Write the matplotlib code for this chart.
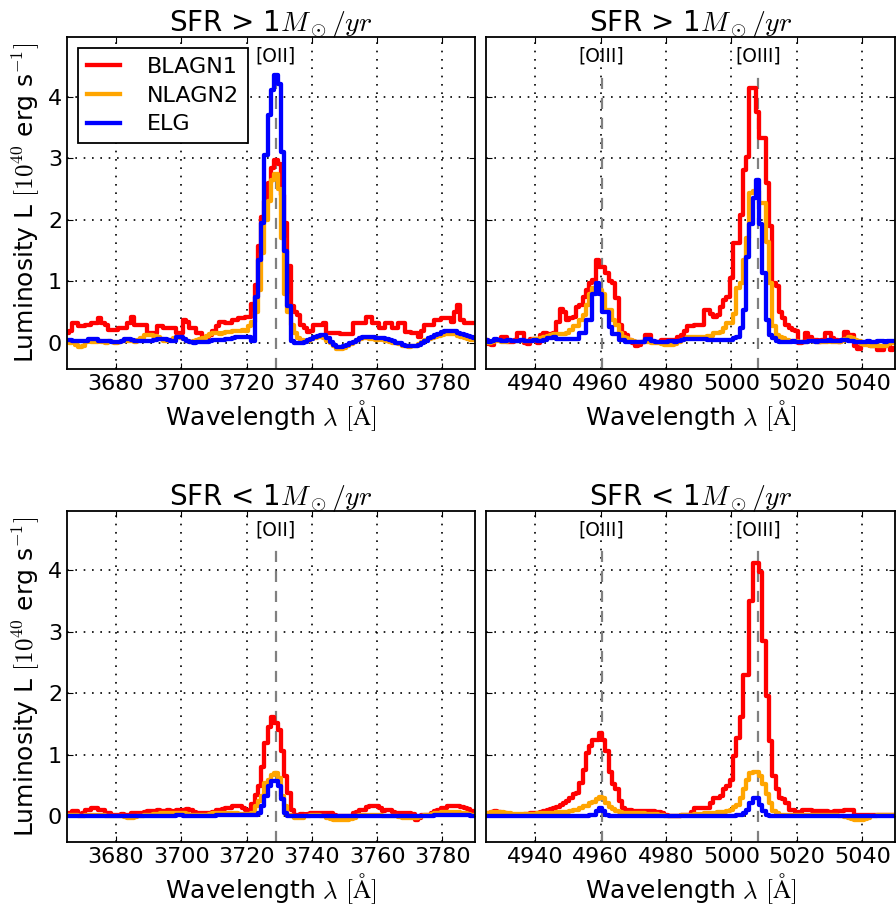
import numpy as np
import matplotlib
matplotlib.use("Agg")
import matplotlib.pyplot as plt

plt.rcParams["font.family"] = ["DejaVu Sans"]
plt.rcParams["mathtext.fontset"] = "cm"

# wavelength grids (Angstrom, 1 A bins)
wl_oii = np.arange(3665, 3791)
wl_oiii = np.arange(4925, 5051)

# ---- SFR > 1 Msun/yr, [OII] window ----
hi_oii_blagn1 = [
    0.17, 0.20, 0.32, 0.32, 0.27, 0.27, 0.29, 0.29, 0.33, 0.33,
    0.40, 0.32, 0.30, 0.21, 0.21, 0.21, 0.24, 0.24, 0.24, 0.32,
    0.43, 0.30, 0.30, 0.30, 0.30, 0.16, 0.16, 0.16, 0.27, 0.27,
    0.24, 0.24, 0.24, 0.24, 0.16, 0.16, 0.37, 0.35, 0.24, 0.24,
    0.16, 0.16, 0.10, 0.10, 0.13, 0.20, 0.27, 0.35, 0.35, 0.32,
    0.32, 0.37, 0.37, 0.40, 0.40, 0.43, 0.43, 0.64, 0.95, 1.57,
    2.05, 2.30, 2.60, 2.84, 2.97, 2.90, 2.40, 1.95, 1.25, 0.60,
    0.50, 0.45, 0.30, 0.25, 0.18, 0.20, 0.30, 0.30, 0.30, 0.32,
    0.16, 0.16, 0.16, 0.16, 0.15, 0.14, 0.14, 0.14, 0.32, 0.32,
    0.32, 0.32, 0.43, 0.43, 0.32, 0.32, 0.24, 0.24, 0.32, 0.32,
    0.24, 0.24, 0.32, 0.32, 0.18, 0.18, 0.16, 0.16, 0.10, 0.20,
    0.29, 0.29, 0.29, 0.37, 0.37, 0.40, 0.40, 0.40, 0.35, 0.50,
    0.62, 0.37, 0.32, 0.32, 0.32, 0.32,
]
hi_oii_nlagn2 = [
    0.02, 0.00, 0.02, -0.03, -0.06, -0.04, 0.02, 0.03, 0.02, 0.01,
    0.03, 0.02, 0.00, 0.03, 0.02, 0.00, 0.02, 0.04, 0.03, 0.03,
    0.04, 0.02, 0.05, 0.08, 0.13, 0.13, 0.13, 0.12, 0.10, 0.06,
    0.04, 0.05, 0.05, 0.08, 0.10, 0.09, 0.06, 0.03, 0.02, 0.03,
    0.05, 0.07, 0.09, 0.12, 0.14, 0.16, 0.16, 0.15, 0.16, 0.18,
    0.18, 0.19, 0.20, 0.20, 0.22, 0.20, 0.27, 0.35, 0.50, 0.86,
    1.46, 2.00, 2.30, 2.65, 2.75, 2.50, 1.70, 0.80, 0.50, 0.30,
    0.16, 0.08, 0.05, 0.04, 0.04, 0.06, 0.09, 0.10, 0.10, 0.08,
    0.03, 0.00, -0.05, -0.09, -0.10, -0.08, -0.05, -0.02, 0.02, 0.05,
    0.07, 0.08, 0.08, 0.07, 0.06, 0.05, 0.06, 0.05, 0.04, 0.02,
    0.00, 0.00, -0.02, -0.04, -0.05, -0.06, -0.05, -0.04, -0.02, 0.02,
    0.05, 0.07, 0.08, 0.10, 0.12, 0.13, 0.14, 0.15, 0.15, 0.14,
    0.12, 0.10, 0.08, 0.06, 0.05, 0.05,
]
hi_oii_elg = [
    0.05, 0.05, 0.04, 0.04, 0.04, 0.04, 0.04, 0.06, 0.06, 0.06,
    0.04, 0.04, 0.04, 0.03, 0.02, 0.02, 0.02, 0.03, 0.06, 0.06,
    0.05, 0.04, 0.03, 0.03, 0.03, 0.04, 0.04, 0.05, 0.06, 0.06,
    0.06, 0.05, 0.04, 0.04, 0.10, 0.10, 0.06, 0.04, 0.02, 0.00,
    0.01, 0.02, 0.02, 0.02, 0.03, 0.05, 0.05, 0.05, 0.05, 0.06,
    0.06, 0.08, 0.10, 0.10, 0.10, 0.10, 0.10, 0.03, 0.75, 1.35,
    1.95, 3.05, 3.70, 4.10, 4.35, 4.20, 3.10, 1.50, 0.60, 0.03,
    0.00, 0.00, 0.00, 0.02, 0.05, 0.07, 0.10, 0.12, 0.13, 0.13,
    0.08, 0.02, -0.03, -0.06, -0.06, -0.05, -0.03, 0.00, 0.02, 0.05,
    0.08, 0.10, 0.10, 0.10, 0.10, 0.08, 0.08, 0.08, 0.06, 0.05,
    0.03, 0.00, 0.00, -0.03, -0.04, -0.05, -0.05, -0.05, -0.03, 0.00,
    0.04, 0.08, 0.10, 0.13, 0.15, 0.18, 0.20, 0.20, 0.20, 0.19,
    0.17, 0.15, 0.13, 0.12, 0.10, 0.08,
]

# ---- SFR > 1 Msun/yr, [OIII] window ----
hi_oiii_blagn1 = [
    0.05, -0.02, -0.03, 0.05, 0.05, 0.10, 0.10, 0.02, 0.02, 0.05,
    0.16, 0.16, 0.00, -0.02, 0.07, 0.07, 0.00, 0.13, 0.16, 0.15,
    0.15, 0.16, 0.35, 0.56, 0.50, 0.37, 0.40, 0.43, 0.59, 0.62,
    0.75, 0.86, 0.97, 1.02, 1.35, 1.24, 1.24, 1.13, 1.00, 0.97,
    0.73, 0.30, 0.16, 0.13, 0.05, 0.00, -0.05, -0.03, 0.02, 0.13,
    0.13, 0.02, 0.02, 0.02, 0.05, 0.05, 0.05, 0.05, 0.05, 0.10,
    0.13, 0.19, 0.27, 0.27, 0.29, 0.29, 0.29, 0.54, 0.54, 0.48,
    0.43, 0.45, 0.59, 0.70, 0.75, 1.05, 1.62, 1.62, 2.08, 2.81,
    3.02, 4.13, 4.13, 3.75, 3.32, 3.32, 2.60, 1.90, 0.97, 0.92,
    0.50, 0.40, 0.30, 0.25, 0.22, 0.20, 0.00, 0.02, 0.16, 0.10,
    0.05, 0.05, 0.02, 0.05, 0.16, 0.16, 0.08, 0.05, 0.02, 0.05,
    0.18, 0.13, 0.13, -0.05, -0.09, 0.00, 0.00, -0.03, -0.05, -0.05,
    -0.11, -0.11, -0.05, 0.02, -0.11, -0.08,
]
hi_oiii_nlagn2 = [
    0.02, 0.00, 0.02, 0.03, 0.03, 0.02, 0.02, 0.04, 0.04, 0.03,
    0.03, 0.04, 0.04, 0.03, 0.04, 0.06, 0.06, 0.08, 0.10, 0.12,
    0.13, 0.14, 0.15, 0.15, 0.15, 0.16, 0.22, 0.27, 0.27, 0.38,
    0.45, 0.62, 0.80, 0.90, 0.90, 0.86, 0.80, 0.54, 0.54, 0.37,
    0.30, 0.16, 0.10, 0.08, 0.05, 0.03, 0.02, 0.02, 0.02, 0.02,
    0.02, 0.00, 0.00, 0.00, -0.02, -0.03, -0.03, -0.03, -0.02, 0.02,
    0.05, 0.07, 0.10, 0.10, 0.10, 0.10, 0.10, 0.10, 0.12, 0.12,
    0.16, 0.16, 0.18, 0.24, 0.32, 0.32, 0.48, 0.89, 0.97, 1.35,
    1.70, 2.43, 2.46, 2.46, 2.27, 2.27, 1.64, 0.97, 0.27, 0.13,
    0.10, 0.08, 0.05, 0.04, 0.03, 0.03, 0.02, 0.02, 0.02, 0.03,
    0.03, 0.02, 0.01, 0.02, 0.02, 0.03, 0.02, 0.01, 0.02, 0.04,
    0.06, 0.10, 0.08, 0.05, 0.03, -0.02, -0.03, -0.03, -0.04, -0.03,
    -0.04, -0.05, -0.04, -0.02, 0.00, 0.00,
]
hi_oiii_elg = [
    0.05, 0.02, 0.03, 0.07, 0.05, 0.03, 0.03, 0.05, 0.04, 0.03,
    0.04, 0.05, 0.03, 0.03, 0.04, 0.05, 0.03, 0.03, 0.05, 0.08,
    0.08, 0.10, 0.07, 0.07, 0.07, 0.06, 0.06, 0.07, 0.07, 0.16,
    0.16, 0.37, 0.37, 0.80, 0.97, 0.80, 0.50, 0.50, 0.26, 0.15,
    0.15, 0.05, 0.05, 0.02, 0.02, 0.02, 0.02, 0.02, 0.02, 0.07,
    0.07, 0.03, 0.02, 0.02, 0.02, 0.02, 0.03, 0.03, 0.02, 0.03,
    0.05, 0.07, 0.07, 0.07, 0.06, 0.07, 0.07, 0.07, 0.05, 0.05,
    0.05, 0.05, 0.05, 0.05, 0.05, 0.05, 0.08, 0.10, 0.24, 0.54,
    1.40, 1.94, 2.35, 2.65, 1.94, 1.13, 0.37, 0.13, 0.08, 0.04,
    0.02, 0.02, 0.02, 0.02, 0.03, 0.02, 0.02, 0.02, 0.02, 0.03,
    0.03, 0.02, 0.03, 0.03, 0.04, 0.05, 0.04, 0.03, 0.03, 0.05,
    0.05, 0.04, 0.03, 0.02, 0.01, 0.02, 0.02, 0.03, 0.02, 0.02,
    0.03, 0.03, 0.02, 0.04, 0.04, 0.03,
]

# ---- SFR < 1 Msun/yr, [OII] window ----
lo_oii_blagn1 = [
    0.06, 0.06, 0.09, 0.09, 0.03, 0.05, 0.11, 0.11, 0.14, 0.14,
    0.11, 0.11, 0.06, 0.06, 0.03, 0.03, 0.03, 0.04, 0.03, 0.03,
    0.05, 0.06, 0.06, 0.06, 0.08, 0.09, 0.09, 0.09, 0.10, 0.09,
    0.09, 0.10, 0.09, 0.08, 0.10, 0.11, 0.11, 0.12, 0.10, 0.07,
    0.06, 0.06, 0.06, 0.06, 0.06, 0.08, 0.11, 0.11, 0.12, 0.14,
    0.14, 0.17, 0.17, 0.17, 0.14, 0.11, 0.11, 0.20, 0.35, 0.49,
    0.81, 1.19, 1.46, 1.62, 1.52, 1.41, 1.06, 0.65, 0.38, 0.11,
    0.03, 0.03, 0.04, 0.03, 0.04, 0.06, 0.06, 0.06, 0.06, 0.05,
    0.05, 0.05, 0.02, 0.00, 0.00, 0.00, 0.00, 0.01, 0.06, 0.08,
    0.11, 0.11, 0.15, 0.17, 0.17, 0.17, 0.14, 0.09, 0.11, 0.11,
    0.08, 0.06, 0.06, 0.06, 0.06, 0.06, 0.04, -0.05, -0.03, 0.03,
    0.03, 0.03, 0.05, 0.09, 0.11, 0.13, 0.14, 0.17, 0.17, 0.17,
    0.17, 0.15, 0.14, 0.12, 0.09, 0.09,
]
lo_oii_nlagn2 = [
    0.03, 0.03, 0.02, 0.02, 0.01, 0.01, 0.02, 0.03, 0.03, 0.02,
    0.02, 0.02, 0.01, 0.00, 0.00, 0.01, 0.01, 0.00, -0.01, -0.02,
    -0.02, -0.01, 0.00, 0.01, 0.02, 0.03, 0.03, 0.04, 0.04, 0.05,
    0.05, 0.05, 0.05, 0.06, 0.06, 0.06, 0.05, 0.04, 0.03, 0.03,
    0.02, 0.02, 0.02, 0.03, 0.04, 0.05, 0.06, 0.06, 0.06, 0.05,
    0.05, 0.05, 0.05, 0.04, 0.04, 0.04, 0.04, 0.05, 0.17, 0.25,
    0.33, 0.54, 0.60, 0.68, 0.71, 0.63, 0.33, 0.17, 0.03, 0.00,
    -0.02, -0.03, -0.02, 0.00, 0.01, 0.02, 0.02, 0.02, 0.01, 0.00,
    -0.02, -0.04, -0.05, -0.06, -0.06, -0.06, -0.05, -0.04, -0.02, 0.00,
    0.02, 0.03, 0.03, 0.03, 0.03, 0.02, 0.02, 0.01, 0.01, 0.00,
    0.00, 0.00, -0.01, -0.02, -0.02, -0.02, -0.03, -0.02, -0.01, 0.00,
    0.02, 0.03, 0.04, 0.05, 0.06, 0.07, 0.08, 0.08, 0.08, 0.08,
    0.07, 0.06, 0.05, 0.04, 0.03, 0.03,
]
lo_oii_elg = [
    0.01, 0.01, 0.01, 0.01, 0.01, 0.01, 0.01, 0.01, 0.01, 0.01,
    0.01, 0.01, 0.01, 0.01, 0.01, 0.01, 0.01, 0.01, 0.01, 0.01,
    0.01, 0.01, 0.01, 0.01, 0.01, 0.01, 0.01, 0.01, 0.01, 0.01,
    0.01, 0.01, 0.01, 0.01, 0.02, 0.02, 0.01, 0.01, 0.01, 0.01,
    0.01, 0.01, 0.01, 0.01, 0.01, 0.01, 0.02, 0.02, 0.02, 0.02,
    0.02, 0.02, 0.02, 0.02, 0.02, 0.02, 0.02, 0.02, 0.03, 0.06,
    0.17, 0.33, 0.49, 0.57, 0.57, 0.49, 0.28, 0.06, 0.00, 0.00,
    0.00, 0.00, 0.00, 0.00, 0.00, 0.00, 0.01, 0.01, 0.01, 0.01,
    0.00, 0.00, 0.00, 0.00, 0.00, 0.00, 0.00, 0.00, 0.00, 0.01,
    0.01, 0.01, 0.01, 0.01, 0.01, 0.01, 0.01, 0.01, 0.00, 0.00,
    0.00, 0.00, 0.00, 0.00, 0.00, 0.00, 0.00, 0.00, 0.00, 0.00,
    0.01, 0.01, 0.01, 0.02, 0.02, 0.02, 0.03, 0.03, 0.03, 0.03,
    0.03, 0.02, 0.02, 0.02, 0.01, 0.01,
]

# ---- SFR < 1 Msun/yr, [OIII] window ----
lo_oiii_blagn1 = [
    0.05, 0.06, 0.08, 0.09, 0.08, 0.06, 0.05, 0.04, 0.03, 0.03,
    0.03, 0.03, 0.04, 0.04, 0.05, 0.05, 0.05, 0.07, 0.09, 0.10,
    0.12, 0.14, 0.16, 0.18, 0.22, 0.25, 0.30, 0.36, 0.38, 0.54,
    0.76, 1.03, 1.14, 1.25, 1.25, 1.35, 1.25, 1.06, 0.73, 0.52,
    0.45, 0.25, 0.13, 0.11, 0.10, 0.09, 0.09, 0.09, 0.09, 0.09,
    0.09, 0.09, 0.08, 0.07, 0.06, 0.03, 0.00, 0.00, 0.00, 0.00,
    0.02, 0.03, 0.03, 0.08, 0.14, 0.14, 0.14, 0.14, 0.14, 0.22,
    0.30, 0.30, 0.33, 0.44, 0.50, 0.60, 0.98, 1.27, 1.62, 2.30,
    2.30, 3.51, 4.12, 4.12, 3.97, 2.86, 1.95, 1.22, 0.65, 0.44,
    0.30, 0.28, 0.22, 0.11, 0.11, 0.08, 0.08, 0.10, 0.11, 0.10,
    0.09, 0.09, 0.09, 0.09, 0.09, 0.08, 0.08, 0.09, 0.09, 0.09,
    0.10, 0.11, 0.11, 0.03, 0.02, 0.02, 0.02, 0.02, 0.02, 0.02,
    0.02, 0.02, 0.03, 0.03, 0.02, 0.02,
]
lo_oiii_nlagn2 = [
    0.04, 0.06, 0.08, 0.08, 0.08, 0.07, 0.06, 0.05, 0.04, 0.04,
    0.04, 0.04, 0.04, 0.04, 0.04, 0.04, 0.05, 0.05, 0.05, 0.06,
    0.06, 0.06, 0.07, 0.08, 0.08, 0.08, 0.09, 0.10, 0.11, 0.13,
    0.17, 0.17, 0.22, 0.24, 0.28, 0.32, 0.30, 0.22, 0.16, 0.12,
    0.09, 0.08, 0.06, 0.06, 0.06, 0.05, 0.05, 0.05, 0.05, 0.04,
    0.04, 0.04, 0.04, 0.03, 0.02, 0.01, 0.00, 0.00, 0.00, 0.01,
    0.02, 0.02, 0.03, 0.03, 0.04, 0.04, 0.04, 0.05, 0.05, 0.06,
    0.06, 0.07, 0.08, 0.08, 0.09, 0.11, 0.15, 0.19, 0.30, 0.44,
    0.60, 0.71, 0.72, 0.72, 0.65, 0.52, 0.36, 0.22, 0.09, 0.05,
    0.03, 0.02, 0.02, 0.02, 0.02, 0.02, 0.02, 0.02, 0.03, 0.03,
    0.03, 0.03, 0.03, 0.03, 0.03, 0.02, 0.02, 0.02, 0.01, 0.00,
    -0.01, -0.02, -0.04, -0.05, -0.05, -0.05, -0.04, -0.02, 0.00, 0.01,
    0.02, 0.02, 0.03, 0.02, 0.02, 0.02,
]
lo_oiii_elg = [
    0.01, 0.01, 0.01, 0.01, 0.01, 0.01, 0.01, 0.01, 0.01, 0.01,
    0.01, 0.01, 0.01, 0.01, 0.01, 0.01, 0.01, 0.01, 0.01, 0.01,
    0.01, 0.01, 0.01, 0.01, 0.01, 0.01, 0.01, 0.01, 0.01, 0.01,
    0.01, 0.01, 0.02, 0.03, 0.09, 0.14, 0.09, 0.03, 0.01, 0.01,
    0.01, 0.01, 0.01, 0.01, 0.01, 0.01, 0.01, 0.01, 0.01, 0.01,
    0.01, 0.01, 0.01, 0.01, 0.01, 0.01, 0.01, 0.01, 0.01, 0.01,
    0.01, 0.01, 0.01, 0.01, 0.01, 0.01, 0.01, 0.01, 0.01, 0.01,
    0.01, 0.01, 0.01, 0.01, 0.01, 0.01, 0.01, 0.02, 0.03, 0.05,
    0.11, 0.22, 0.30, 0.30, 0.19, 0.09, 0.02, 0.01, 0.01, 0.01,
    0.01, 0.01, 0.01, 0.01, 0.01, 0.01, 0.01, 0.01, 0.01, 0.01,
    0.01, 0.01, 0.01, 0.01, 0.01, 0.01, 0.01, 0.01, 0.01, 0.01,
    0.01, 0.01, 0.01, 0.01, 0.01, 0.01, 0.01, 0.01, 0.01, 0.01,
    0.01, 0.01, 0.01, 0.01, 0.01, 0.01,
]

class_names = ["BLAGN1", "NLAGN2", "ELG"]
class_colors = ["#ff0000", "#ffa500", "#0000ff"]

oii_line = 3729.0
oiii_lines = [4960.3, 5008.2]

oii_ticks = [3680, 3700, 3720, 3740, 3760, 3780]
oiii_ticks = [4940, 4960, 4980, 5000, 5020, 5040]
y_ticks = [0, 1, 2, 3, 4]

titles = [r"SFR > 1$M_\odot/yr$", r"SFR < 1$M_\odot/yr$"]

panels = [
    # (row, col, wl, series, lines, label, xticks)
    (0, 0, wl_oii, [hi_oii_blagn1, hi_oii_nlagn2, hi_oii_elg], [oii_line], "[OII]", oii_ticks),
    (0, 1, wl_oiii, [hi_oiii_blagn1, hi_oiii_nlagn2, hi_oiii_elg], oiii_lines, "[OIII]", oiii_ticks),
    (1, 0, wl_oii, [lo_oii_blagn1, lo_oii_nlagn2, lo_oii_elg], [oii_line], "[OII]", oii_ticks),
    (1, 1, wl_oiii, [lo_oiii_blagn1, lo_oiii_nlagn2, lo_oiii_elg], oiii_lines, "[OIII]", oiii_ticks),
]

W, H = 896, 911
fig = plt.figure(figsize=(W / 100, H / 100), dpi=100)

col_x = [(67, 475), (486, 895)]
row_y = [(36.7, 369.0), (510.7, 842.3)]
ylim = (-0.42, 4.97)

for row, col, wl, series, lines, lab, xt in panels:
    x0, x1 = col_x[col]
    y0, y1 = row_y[row]
    ax = fig.add_axes([x0 / W, (H - y1) / H, (x1 - x0) / W, (y1 - y0) / H])
    ax.set_xlim(wl[0], wl[-1])
    ax.set_ylim(*ylim)
    ax.grid(True, color="k", linewidth=1.2, linestyle=(0, (1, 4)))
    ax.set_axisbelow(True)
    for lam in lines:
        ax.plot([lam, lam], [ylim[0], 4.45], color="0.5", linestyle="--",
                linewidth=1.6, dashes=(5, 4), zorder=1.5)
        ax.text(lam, 4.65, lab, ha="center", va="center", fontsize=13.5)
    for vals, name, c in zip(series, class_names, class_colors):
        ax.step(wl, vals, where="mid", color=c, linewidth=3.1, label=name, zorder=2)
    ax.set_xticks(xt)
    ax.set_yticks(y_ticks)
    ax.tick_params(direction="in", top=True, right=True, labelsize=16, length=4)
    for s in ax.spines.values():
        s.set_linewidth(1.3)
    ax.set_title(titles[row], fontsize=20, pad=4)
    ax.set_xlabel(r"Wavelength $\lambda$ $[\mathrm{\AA}]$", fontsize=18, labelpad=3)
    if col == 0:
        ax.set_ylabel(r"Luminosity L $[10^{40}$ erg s$^{-1}]$", fontsize=18, labelpad=4)
    else:
        ax.set_yticklabels([])
    if row == 0 and col == 0:
        leg = ax.legend(loc="upper left", fontsize=16, handlelength=1.5,
                        handletextpad=1.2, borderaxespad=0.5, labelspacing=0.4,
                        fancybox=False, framealpha=1.0)
        leg.get_frame().set_edgecolor("k")
        leg.get_frame().set_linewidth(1.3)

fig.savefig("out.png", dpi=100)
